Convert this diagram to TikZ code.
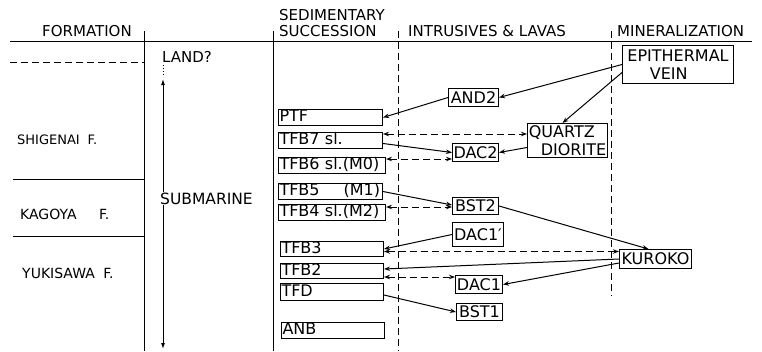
\documentclass[tikz,border=0pt]{standalone}
\usepackage{fontspec}
\setmainfont{DejaVu Sans}
\usetikzlibrary{arrows.meta,calc}
\begin{document}
\begin{tikzpicture}[x=1pt,y=-1pt,
  ln/.style={line width=1pt},
  dsh/.style={line width=1pt, dash pattern=on 7pt off 4pt},
  arr/.style={-{Stealth[open,length=6pt,width=4.5pt]}},
  darr/.style={{Stealth[open,length=6pt,width=4.5pt]}-{Stealth[open,length=6pt,width=4.5pt]}},
  hdr/.style={anchor=base west, inner sep=0pt, font=\fontsize{15}{15}\selectfont},
  fml/.style={anchor=base west, inner sep=0pt, font=\fontsize{13.5}{13.5}\selectfont},
  sedbox/.style={draw, line width=1pt, anchor=north west, inner xsep=1pt, inner ysep=0pt,
    text height=11.5pt, text depth=3pt, align=left, font=\fontsize{16}{16}\selectfont},
  ibox/.style={draw, line width=1pt, anchor=north west, inner xsep=1pt, inner ysep=0pt,
    font=\fontsize{16}{18}\selectfont}
]
\useasboundingbox (0,0) rectangle (762,351);

% frame
\draw[ln] (10,41) -- (752,41);
\draw[ln] (144,31) -- (144,351);
\draw[ln] (273,31) -- (273,351);
\draw[dsh] (398,31) -- (398,351);
\draw[dsh] (611,31) -- (611,296);
\draw[dsh] (10,62) -- (144,62);
\draw[ln] (13,179) -- (144,179);
\draw[ln] (13,236) -- (144,236);

% headers
\node[hdr] (hform) at (42,36) {FORMATION};
\node[hdr] (hsed1) at (279,20) {SEDIMENTARY};
\node[hdr] (hsed2) at (279,36) {SUCCESSION};
\node[hdr] (hint) at (408,36) {INTRUSIVES \& LAVAS};
\node[hdr] (hmin) at (617,36) {MINERALIZATION};

% formations
\node[fml, font=\fontsize{13}{13}\selectfont] (shig) at (17,144) {SHIGENAI\hspace{0.6em}F.};
\node[fml, font=\fontsize{14}{14}\selectfont] (kago) at (20,219) {KAGOYA\hspace{1.6em}F.};
\node[fml, font=\fontsize{14}{14}\selectfont] (yuki) at (22,278) {YUKISAWA\hspace{0.6em}F.};

% environment
\node[hdr] (land) at (162,62) {LAND?};
\draw[ln, dotted] (163,65) -- (163,77);
\draw[ln, {Latex[length=6pt,width=4pt]}-{Latex[length=6pt,width=4pt]}] (163,79) -- (163,349);
\node[anchor=base west, fill=white, inner xsep=1pt, inner ysep=1pt, font=\fontsize{15.5}{15.5}\selectfont] (subm) at (159,204) {SUBMARINE};

% sedimentary succession
\node[sedbox, text width=102pt, minimum height=16pt] (ptf) at (278,109) {PTF};
\node[sedbox, text width=102pt, minimum height=16pt] (tfb7) at (278,132) {TFB7 sl.};
\node[sedbox, text width=105pt, minimum height=16pt] (tfb6) at (278,157) {TFB6 sl.(M0)};
\node[sedbox, text width=102pt, minimum height=16pt] (tfb5) at (278,183) {TFB5\hspace{1.5em}(M1)};
\node[sedbox, text width=105pt, minimum height=16pt] (tfb4) at (278,204) {TFB4 sl.(M2)};
\node[sedbox, text width=101pt, minimum height=15pt] (tfb3) at (280,241) {TFB3};
\node[sedbox, text width=101pt, minimum height=15pt] (tfb2) at (280,263) {TFB2};
\node[sedbox, text width=101pt, minimum height=17pt] (tfd) at (280,283) {TFD};
\node[sedbox, text width=101pt, minimum height=16pt] (anb) at (281,322) {ANB};

% intrusives & lavas
\node[ibox, minimum width=50pt, minimum height=18pt] (and2) at (448,88) {AND2};
\node[ibox, minimum width=46pt, minimum height=18pt] (dac2) at (452,143) {DAC2};
\node[ibox, minimum width=46pt, minimum height=17pt] (bst2) at (452,197) {BST2};
\node[ibox, minimum width=51pt, minimum height=24pt] (dac1p) at (452,222) {DAC1′};
\node[ibox, minimum width=47pt, minimum height=18pt] (dac1) at (455,275) {DAC1};
\node[ibox, minimum width=46pt, minimum height=17pt] (bst1) at (456,303) {BST1};

% mineralization
\node[ibox, minimum width=111pt, minimum height=38pt, align=left] (ep) at (622,45) {EPITHERMAL\\\hspace*{1.4em}VEIN};
\node[ibox, minimum width=80pt, minimum height=34pt, align=left] (qd) at (527,123) {QUARTZ\\\hspace*{0.75em}DIORITE};
\node[ibox, minimum width=72pt, minimum height=19pt] (kur) at (619,249) {KUROKO};

% connectors
\draw[ln,arr] (ep.west) -- (and2.east);
\draw[ln,arr] (and2.west) -- (ptf.east);
\draw[ln,arr] ($(ep.west)+(0,8)$) -- ($(qd.north)+(-5,0)$);

\coordinate (c1) at ($(tfb7.north east)+(0,2)$);
\draw[dsh,darr] (c1) -- (c1 -| qd.west);
\draw[ln,arr] ($(tfb7.east)+(0,3)$) -- (dac2.west);
\draw[ln,arr] ($(qd.west)+(0,7)$) -- (dac2.east);

\coordinate (c2) at ($(tfb6.north east)+(0,2)$);
\draw[dsh,darr] (c2) -- (c2 -| dac2.west);

\draw[ln,arr] (tfb5.east) -- ($(bst2.west)+(0,-1)$);
\coordinate (c3) at ($(tfb4.north east)+(0,3)$);
\draw[dsh,darr] (c3) -- (c3 -| bst2.west);
\draw[ln,arr] (bst2.east) -- ($(kur.north)+(-7,0)$);

\draw[ln,arr] (dac1p.west) -- (tfb3.east);
\coordinate (c4) at ($(kur.north west)+(0,2.5)$);
\draw[dsh,darr] (c4 -| tfb3.east) -- (c4);
\draw[ln,arr] (kur.west) -- ($(tfb2.east)+(0,-2)$);
\draw[ln,arr] ($(kur.west)+(0,4)$) -- (dac1.east);
\coordinate (c5) at ($(dac1.north west)+(0,2)$);
\draw[dsh,darr] (c5 -| tfb2.east) -- (c5);
\draw[ln,arr] ($(tfd.east)+(0,3)$) -- (bst1.west);
\end{tikzpicture}
\end{document}
